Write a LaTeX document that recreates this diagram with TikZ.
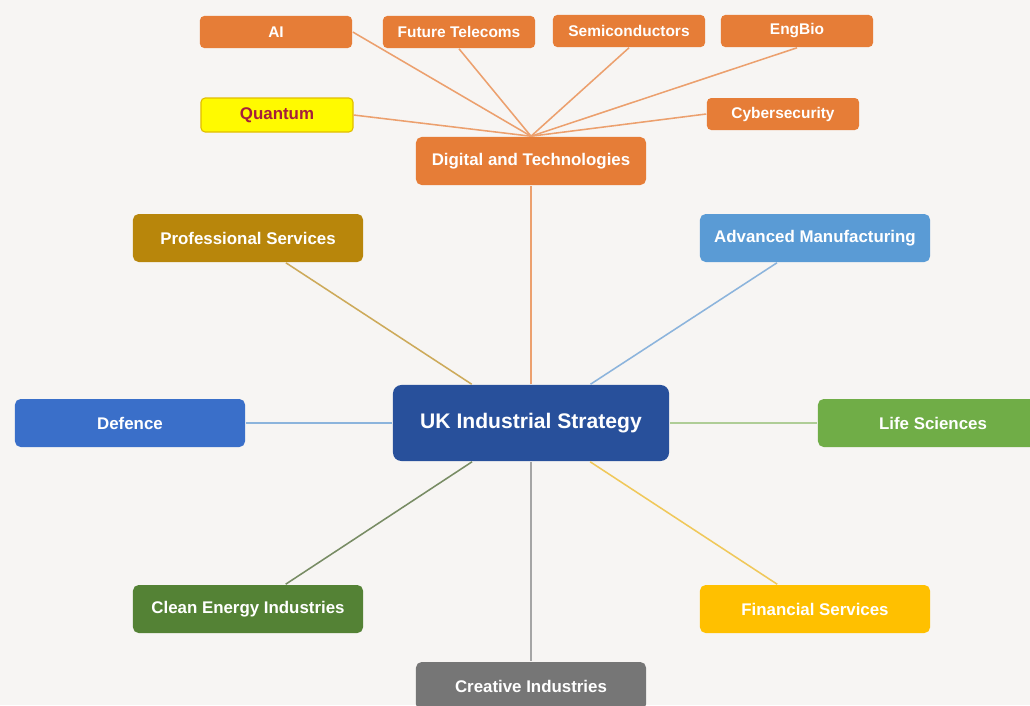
\documentclass[tikz,border=0pt]{standalone}
\usepackage{fontspec}
\setmainfont{Liberation Sans}
\definecolor{bgc}{RGB}{247,245,243}
\definecolor{orng}{RGB}{230,125,55}
\definecolor{orngl}{RGB}{236,160,110}
\definecolor{gold}{RGB}{184,134,11}
\definecolor{goldl}{RGB}{205,170,90}
\definecolor{amblue}{RGB}{90,155,213}
\definecolor{amline}{RGB}{140,180,220}
\definecolor{defblue}{RGB}{58,111,201}
\definecolor{ukblue}{RGB}{40,80,155}
\definecolor{lifegreen}{RGB}{112,173,71}
\definecolor{lifeline}{RGB}{175,205,150}
\definecolor{cleangreen}{RGB}{84,130,53}
\definecolor{cleanline}{RGB}{120,140,100}
\definecolor{finyellow}{RGB}{255,192,0}
\definecolor{finline}{RGB}{240,200,90}
\definecolor{greybox}{RGB}{118,118,118}
\definecolor{greyline}{RGB}{165,165,165}
\definecolor{qyellow}{RGB}{255,250,0}
\definecolor{qborder}{RGB}{225,190,0}
\definecolor{qred}{RGB}{165,30,60}
\begin{document}
\begin{tikzpicture}[x=0.025cm, y=-0.025cm, line width=1.1pt,
  sector node/.style={rectangle,rounded corners=4pt,text=white,minimum width=5.75cm,minimum height=1.2cm,inner sep=0pt,font=\bfseries\fontsize{12}{14}\selectfont},
  tech node/.style={rectangle,rounded corners=3pt,fill=orng,text=white,minimum width=3.8cm,minimum height=0.8cm,inner sep=0pt,font=\bfseries\fontsize{11}{13}\selectfont},
  hub node/.style={rectangle,rounded corners=6pt,fill=ukblue,text=white,minimum width=6.9cm,minimum height=1.9cm,inner sep=0pt,font=\bfseries\fontsize{15}{18}\selectfont}]
\fill [bgc] (0,0) rectangle (1030,705);
\useasboundingbox (0,0) rectangle (1030,705);
% technology nodes
\node [tech node](ai) at (276,32) {AI};
\node [tech node](tele) at (459,32) {Future Telecoms};
\node [tech node](semi) at (629,31) {Semiconductors};
\node [tech node](bio) at (797,31) {EngBio};
\node [tech node,fill=qyellow,draw=qborder,line width=0.8pt,text=qred,minimum height=0.85cm,font=\bfseries\fontsize{12}{14}\selectfont](quant) at (277,115) {Quantum};
\node [tech node](cyber) at (783,114) {Cybersecurity};
% sectors
\node [sector node,fill=orng](dig) at (531,161) {Digital and Technologies};
\node [sector node,fill=gold](prof) at (248,238) {Professional Services};
\node [sector node,fill=amblue](adv) at (815,238) {Advanced Manufacturing};
\node [sector node,fill=defblue](def) at (130,423) {Defence};
\node [sector node,fill=lifegreen](life) at (933,423) {Life Sciences};
\node [sector node,fill=cleangreen](clean) at (248,609) {Clean Energy Industries};
\node [sector node,fill=finyellow](fin) at (815,609) {Financial Services};
\node [sector node,fill=greybox](crea) at (531,686) {Creative Industries};
\node [hub node](uk) at (531,423) {UK Industrial Strategy};
\path [draw=orngl]
	(ai.east) edge (dig.north)
	(tele.south) edge (dig.north)
	(semi.south) edge (dig.north)
	(bio.south) edge (dig.north)
	(quant.east) edge (dig.north)
	(cyber.west) edge (dig.north)
	;
\path
	(uk) edge [draw=orngl] (dig)
	(uk) edge [draw=goldl] (prof)
	(uk) edge [draw=amline] (adv)
	(uk) edge [draw=amline] (def)
	(uk) edge [draw=lifeline] (life)
	(uk) edge [draw=cleanline] (clean)
	(uk) edge [draw=finline] (fin)
	(uk) edge [draw=greyline] (crea)
	;
\end{tikzpicture}
\end{document}
